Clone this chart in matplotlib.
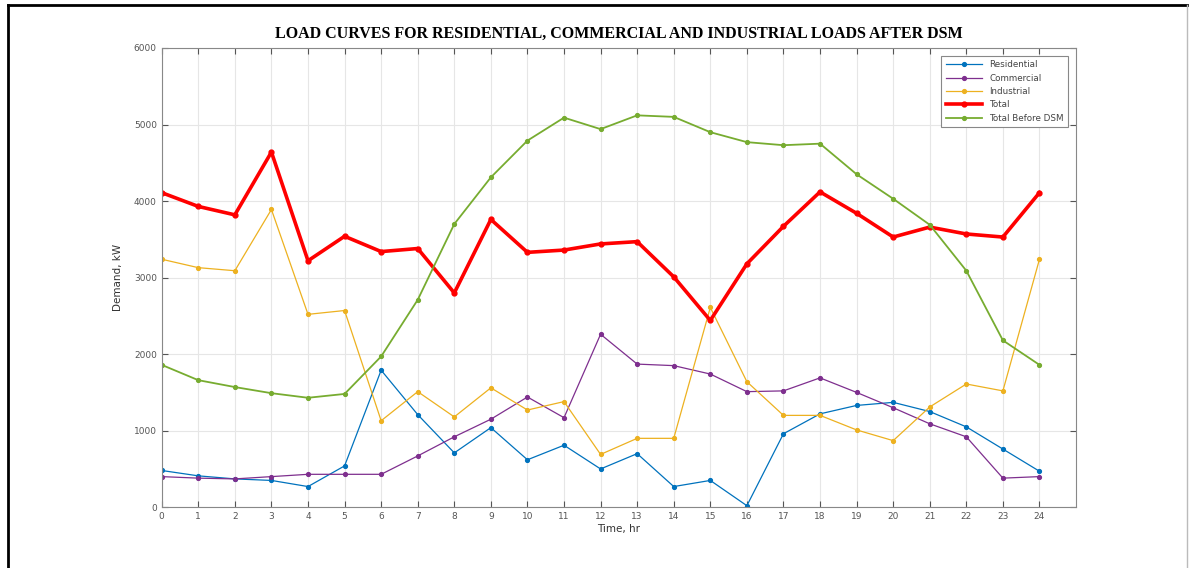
import numpy as np
import matplotlib.pyplot as plt
from matplotlib.lines import Line2D

hours = list(range(25))
residential = [480, 410, 370, 350, 270, 540, 1790, 1210, 710, 1040, 620, 810, 500,
               700, 270, 350, 20, 960, 1220, 1330, 1370, 1250, 1050, 760, 470]
commercial = [400, 380, 370, 400, 430, 430, 430, 670, 920, 1150, 1440, 1170, 2260,
              1870, 1850, 1740, 1510, 1520, 1690, 1500, 1300, 1090, 920, 380, 400]
industrial = [3240, 3130, 3090, 3890, 2520, 2570, 1130, 1510, 1180, 1560, 1270, 1380, 690,
              900, 900, 2610, 1640, 1200, 1200, 1010, 870, 1310, 1610, 1520, 3240]
total = [4110, 3930, 3820, 4640, 3220, 3540, 3340, 3380, 2800, 3760, 3330, 3360, 3440,
         3470, 3010, 2440, 3180, 3670, 4120, 3840, 3530, 3660, 3570, 3530, 4110]
total_before = [1860, 1660, 1570, 1490, 1430, 1480, 1970, 2710, 3700, 4310, 4790, 5090, 4940,
                5120, 5100, 4900, 4770, 4730, 4750, 4350, 4030, 3690, 3090, 2180, 1860]

fig = plt.figure(figsize=(11.89, 5.68), dpi=100)
ax = fig.add_axes([0.136, 0.107, 0.769, 0.8085])

ax.plot(hours, residential, '.-', color='#0072BD', lw=0.9, ms=5.5, label='Residential')
ax.plot(hours, commercial, '.-', color='#7E2F8E', lw=0.9, ms=5.5, label='Commercial')
ax.plot(hours, industrial, '.-', color='#EDB120', lw=0.9, ms=5.5, label='Industrial')
ax.plot(hours, total, '.-', color='#FF0000', lw=2.6, ms=7, label='Total')
ax.plot(hours, total_before, '.-', color='#77AC30', lw=1.3, ms=5.5, label='Total Before DSM')

ax.set_xlim(0, 25)
ax.set_ylim(0, 6000)
ax.set_xticks(range(25))
ax.set_yticks(range(0, 6001, 1000))
ax.grid(True, color='#e6e6e6', lw=0.8)
ax.set_axisbelow(True)
ax.tick_params(direction='in', length=4, labelsize=6.5, colors='#555555',
               top=True, right=True)
for s in ax.spines.values():
    s.set_color('#888888')
    s.set_linewidth(0.8)

ax.set_xlabel('Time, hr', fontsize=7.5, color='#333333', labelpad=2)
ax.set_ylabel('Demand, kW', fontsize=7.5, color='#333333', labelpad=8)
ax.set_title('LOAD CURVES FOR RESIDENTIAL, COMMERCIAL AND INDUSTRIAL LOADS AFTER DSM',
             fontsize=11.5, fontweight='bold', family='Liberation Serif', pad=7)

leg = ax.legend(loc='upper right', fontsize=6.3, fancybox=False, framealpha=1,
                edgecolor='#888888', handlelength=4.2, borderaxespad=0.9,
                labelspacing=0.5, borderpad=0.5)
leg.get_frame().set_linewidth(0.8)
for t in leg.get_texts():
    t.set_color('#444444')

# page border around the figure
fig.add_artist(Line2D([0.0067, 0.0067], [0, 0.991], color='black', lw=2,
                      transform=fig.transFigure))
fig.add_artist(Line2D([0.0067, 0.998], [0.991, 0.991], color='black', lw=2,
                      transform=fig.transFigure))
fig.add_artist(Line2D([0.998, 0.998], [0, 0.991], color='#bbbbbb', lw=1,
                      transform=fig.transFigure))

fig.savefig('out.png', dpi=100)
